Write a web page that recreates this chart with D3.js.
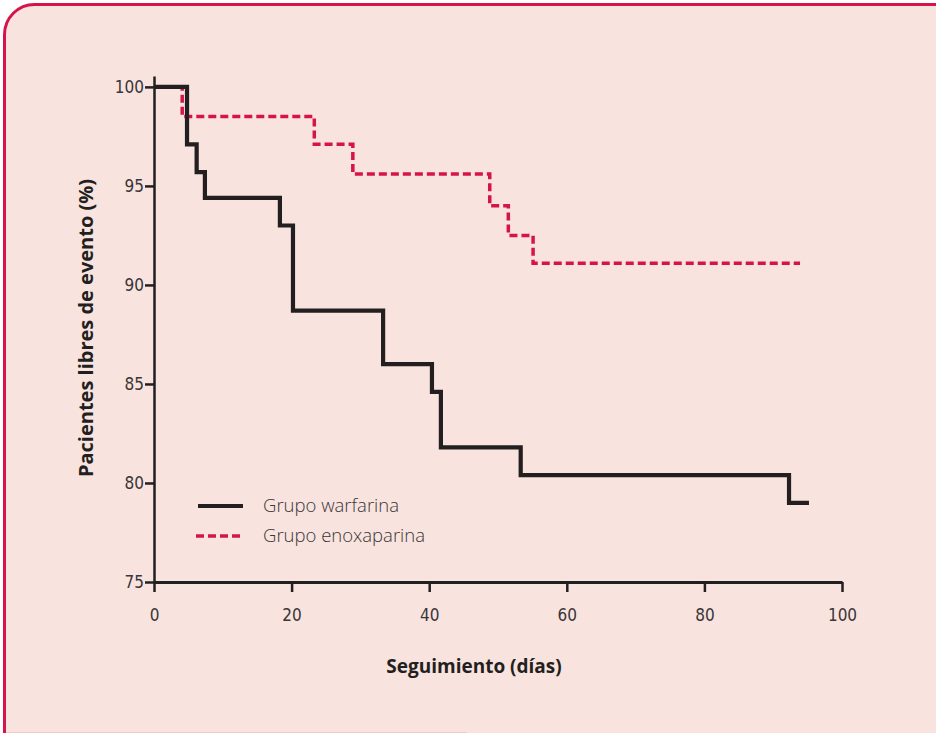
<!DOCTYPE html>
<html>
<head>
<meta charset="utf-8">
<script src="https://cdn.jsdelivr.net/npm/d3@7"></script>
<style>
  html, body { margin: 0; padding: 0; background: #ffffff; }
  svg { display: block; }
</style>
</head>
<body>
<svg id="chart" width="936" height="733"></svg>
<script>
// ---- Data ----
const warfarinaDays   = [0, 4.8, 6.2, 7.4, 18.3, 20.2, 33.3, 40.4, 41.7, 53.3, 92.3, 95.2];
const warfarinaValues = [100, 97.1, 95.7, 94.4, 93.0, 88.7, 86.0, 84.6, 81.8, 80.4, 79.0, 79.0];
const enoxaDays   = [0, 4.1, 23.3, 28.9, 48.8, 51.5, 55.1, 93.9];
const enoxaValues = [100, 98.5, 97.1, 95.6, 94.0, 92.5, 91.1, 91.1];
const xTicks = [0, 20, 40, 60, 80, 100];
const yTicks = [75, 80, 85, 90, 95, 100];
const seriesNames = ["Grupo warfarina", "Grupo enoxaparina"];
const xTitle = "Seguimiento (días)";
const yTitle = "Pacientes libres de evento (%)";

// ---- Drawing ----
const svg = d3.select("#chart");
const tickFont = "'Liberation Sans Narrow', 'DejaVu Sans Condensed', 'Open Sans', sans-serif";
const textFont = "'Open Sans', 'Noto Sans', sans-serif";

// frame
svg.append("rect")
  .attr("x", 4.5).attr("y", 4.5)
  .attr("width", 1000).attr("height", 800)
  .attr("rx", 30).attr("ry", 30)
  .attr("fill", "#f8e3df")
  .attr("stroke", "#d5154a")
  .attr("stroke-width", 3);
svg.append("line")
  .attr("x1", 6).attr("x2", 467).attr("y1", 732.5).attr("y2", 732.5)
  .attr("stroke", "#f3c9c6").attr("stroke-width", 1);

const x = d3.scaleLinear().domain([0, 100]).range([154, 842]);
const y = d3.scaleLinear().domain([75, 100.55]).range([582, 76]);

const axisColor = "#231f20";

// y axis
const gy = svg.append("g").attr("transform", `translate(${x(0)},0)`)
  .call(d3.axisLeft(y).tickValues(yTicks).tickSize(9).tickSizeOuter(0).tickPadding(3));
gy.select(".domain").attr("stroke", axisColor).attr("stroke-width", 2.5);
gy.selectAll(".tick line").attr("stroke", axisColor).attr("stroke-width", 2.5);
gy.selectAll(".tick text")
  .attr("font-family", tickFont).attr("font-size", 17).attr("fill", "#3a3536")
  .attr("font-weight", 300).attr("dx", 2);

// x axis
const gx = svg.append("g").attr("transform", `translate(0,${y(75)})`)
  .call(d3.axisBottom(x).tickValues(xTicks).tickSize(10).tickSizeOuter(0).tickPadding(17));
gx.select(".domain").attr("stroke", axisColor).attr("stroke-width", 3);
gx.selectAll(".tick line").attr("stroke", axisColor).attr("stroke-width", 2.5);
gx.selectAll(".tick text")
  .attr("font-family", tickFont).attr("font-size", 17).attr("fill", "#3a3536")
  .attr("font-weight", 300);

// lines
const line = d3.line().x(d => x(d[0])).y(d => y(d[1])).curve(d3.curveStepAfter);
const enoxaData = enoxaDays.map((d, i) => [d, enoxaValues[i]]);
const warfData = warfarinaDays.map((d, i) => [d, warfarinaValues[i]]);

svg.append("path").datum(enoxaData)
  .attr("d", line)
  .attr("fill", "none")
  .attr("stroke", "#d5154a")
  .attr("stroke-width", 3.5)
  .attr("stroke-dasharray", "8,4");

svg.append("path").datum(warfData)
  .attr("d", line)
  .attr("fill", "none")
  .attr("stroke", "#231f20")
  .attr("stroke-width", 4.2)
  .attr("stroke-linejoin", "miter");

// legend
const legend = svg.append("g");
legend.append("line").attr("x1", 198).attr("x2", 243).attr("y1", 506).attr("y2", 506)
  .attr("stroke", "#231f20").attr("stroke-width", 4.2);
legend.append("line").attr("x1", 196).attr("x2", 240).attr("y1", 536).attr("y2", 536)
  .attr("stroke", "#d5154a").attr("stroke-width", 3.5).attr("stroke-dasharray", "8,4");
legend.selectAll("text.lg").data(seriesNames).enter().append("text")
  .attr("class", "lg")
  .attr("x", 263)
  .attr("y", (d, i) => 512 + i * 30)
  .attr("font-family", textFont).attr("font-size", 18.5).attr("font-weight", 300)
  .attr("fill", "#3a3536")
  .text(d => d);

// axis titles
svg.append("text")
  .attr("x", 474).attr("y", 673)
  .attr("text-anchor", "middle")
  .attr("font-family", textFont).attr("font-size", 19).attr("font-weight", 700)
  .attr("fill", "#231f20")
  .text(xTitle);

svg.append("text")
  .attr("transform", "translate(93,328) rotate(-90)")
  .attr("text-anchor", "middle")
  .attr("font-family", textFont).attr("font-size", 20).attr("font-weight", 700)
  .attr("fill", "#231f20")
  .text(yTitle);
</script>
</body>
</html>
